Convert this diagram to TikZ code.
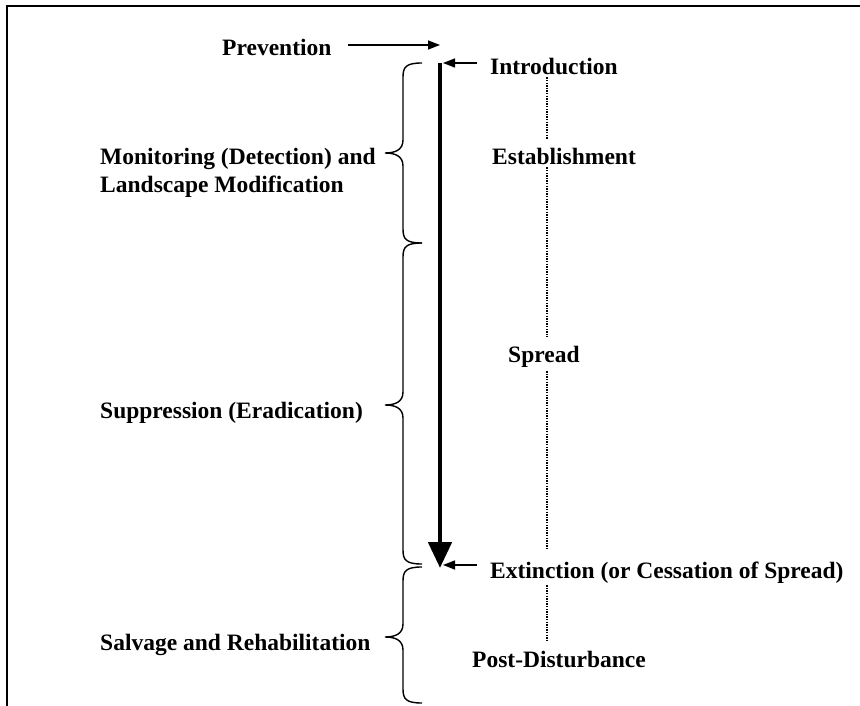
\documentclass[tikz,border=0pt]{standalone}
\usepackage{fontspec}
\setmainfont{Liberation Serif}
\usetikzlibrary{arrows.meta,calc}
\newcommand{\mybrace}[3]{%
  \draw[bracestyle] (422,#1) .. controls (406,#1) and (403,#1+4) .. (403,#1+14)
    -- (403,#2-13) .. controls (403,#2-3) and (395,#2) .. (385,#2)
    .. controls (395,#2) and (403,#2+3) .. (403,#2+13)
    -- (403,#3-14) .. controls (403,#3-4) and (406,#3) .. (422,#3);}
\begin{document}
\begin{tikzpicture}[x=1pt,y=-1pt,
  lbl/.style={font=\fontsize{23.5}{28}\selectfont\bfseries, inner sep=0pt, anchor=base west},
  thinarrow/.style={line width=1.4pt, -{Triangle[length=12pt,width=9pt]}},
  dots/.style={line width=1.8pt, dash pattern=on 1.4pt off 1.2pt, shorten >=9pt, shorten <=2pt},
  bracestyle/.style={line width=1.4pt},
  frame/.style={line width=1.5pt}]
\useasboundingbox (0,0) rectangle (860,706);
\draw[frame] (7,706) -- (7,6) -- (860,6);

% labels
\node[lbl] (prev)   at (222,56)  {Prevention};
\node[lbl] (intro)  at (490,75)  {Introduction};
\node[lbl] (estab)  at (492,165) {Establishment};
\node[lbl] (spread) at (508,362) {Spread};
\node[lbl] (ext)    at (490,578) {Extinction (or Cessation of Spread)};
\node[lbl] (post)   at (472,667) {Post-Disturbance};
\node[lbl] (mon)    at (100,165) {Monitoring (Detection) and};
\node[lbl] (mon2)   at (100,193) {Landscape Modification};
\node[lbl] (supp)   at (100,418) {Suppression (Eradication)};
\node[lbl] (salv)   at (100,650) {Salvage and Rehabilitation};

% coordinates
\coordinate (top) at (440,63);
\coordinate (bot) at (440,568);
\coordinate (prevtip) at (440,45);
\coordinate (introtip) at (443,63);
\coordinate (exttip) at (443,565);
\coordinate (axis) at (547,0);

% main thick arrow
\draw[line width=4.8pt, -{Triangle[length=26pt,width=23pt]}] (top) -- (bot);

% small arrows
\draw[thinarrow] ($(prev.east |- prevtip)+(16,0)$) -- (prevtip);
\draw[thinarrow] ($(intro.west |- introtip)+(-13,0)$) -- (introtip);
\draw[thinarrow] ($(ext.west |- exttip)+(-13,0)$) -- (exttip);

% dotted stage links
\draw[dots] (intro.south -| axis) -- (estab.north -| axis);
\draw[dots] (estab.south -| axis) -- (spread.north -| axis);
\draw[dots, shorten >=11pt, shorten <=4pt] (spread.south -| axis) -- (ext.north -| axis);
\draw[dots] (ext.south -| axis) -- (post.north -| axis);

% braces
\mybrace{63}{153}{243}
\mybrace{243}{405}{564}
\mybrace{567}{637}{703}
\end{tikzpicture}
\end{document}
